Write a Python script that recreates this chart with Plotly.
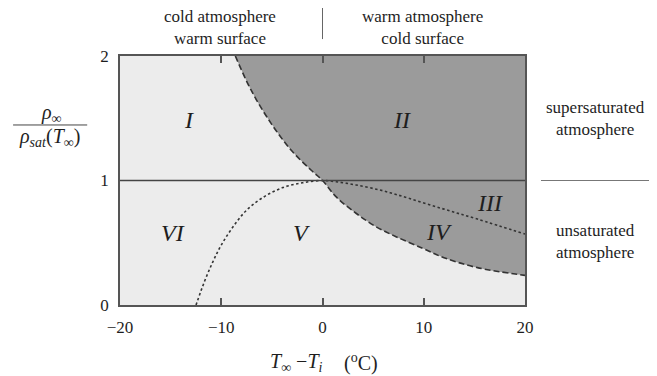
import plotly.graph_objects as go

# ---- data ----
x_ticks = [-20, -10, 0, 10, 20]
y_ticks = [0, 1, 2]

# boundary curve (dashed)
dash_x = [-8.61, -7.06, -5.08, -3.11, -1.14, 0.0, 1.33, 3.31, 5.28, 7.26, 9.89, 12.0, 15.3, 20.0]
dash_y = [2.0, 1.727, 1.459, 1.245, 1.084, 1.0, 0.870, 0.737, 0.629, 0.549, 0.455, 0.38, 0.30, 0.238]

# dotted curve
dot_x = [-12.49, -11.67, -10.84, -10.02, -8.87, -7.55, -5.90, -3.93, -1.95, 0.0, 1.33, 3.31, 5.94, 8.6, 12.0, 15.3, 20.0]
dot_y = [0.0, 0.186, 0.345, 0.478, 0.624, 0.757, 0.863, 0.943, 0.982, 1.0, 0.99, 0.964, 0.918, 0.855, 0.77, 0.69, 0.57]

# region labels
region_text = ["I", "II", "III", "IV", "V", "VI"]
region_x = [-13.2, 7.9, 16.5, 11.5, -2.1, -14.8]
region_y = [1.49, 1.49, 0.82, 0.59, 0.58, 0.58]

saturation_level = 1.0

SERIF = "Liberation Serif"
INK = "#1e1e1e"
LINE = "#333333"

fig = go.Figure()

fig.add_trace(go.Scatter(
    x=[dash_x[0], x_ticks[-1]], y=[y_ticks[-1], y_ticks[-1]],
    mode="lines", line=dict(width=0, color="rgba(0,0,0,0)"),
    hoverinfo="skip", showlegend=False))
fig.add_trace(go.Scatter(
    x=dash_x, y=dash_y, mode="lines",
    line=dict(color=LINE, width=1.6, dash="6px,3px", shape="spline"),
    fill="tonexty", fillcolor="#9b9b9b",
    hoverinfo="skip", showlegend=False))
fig.add_trace(go.Scatter(
    x=dot_x, y=dot_y, mode="lines",
    line=dict(color=LINE, width=1.6, dash="2.5px,2.5px", shape="spline"),
    hoverinfo="skip", showlegend=False))

fig.add_shape(type="line", xref="x", yref="y", x0=x_ticks[0], x1=x_ticks[-1],
              y0=saturation_level, y1=saturation_level,
              line=dict(color="#444444", width=1.5), layer="above")
fig.add_shape(type="line", xref="paper", yref="y", x0=1.0395, x1=1.311,
              y0=saturation_level, y1=saturation_level,
              line=dict(color="#777777", width=1))
fig.add_shape(type="line", xref="x", yref="paper", x0=0, x1=0,
              y0=1.068, y1=1.193, line=dict(color="#666666", width=1))

for t, xv, yv in zip(region_text, region_x, region_y):
    fig.add_annotation(x=xv, y=yv, xref="x", yref="y", text=f"<i>{t}</i>",
                       xanchor="center", yanchor="middle",
                       showarrow=False, font=dict(family=SERIF, size=24, color=INK))

txt = dict(showarrow=False, xanchor="center", yanchor="middle",
           font=dict(family=SERIF, size=17, color=INK))
fig.add_annotation(x=0.247, y=1.114, xref="paper", yref="paper",
                   text="cold atmosphere<br>warm surface", **txt)
fig.add_annotation(x=0.748, y=1.114, xref="paper", yref="paper",
                   text="warm atmosphere<br>cold surface", **txt)
fig.add_annotation(x=1.175, y=0.747, xref="paper", yref="paper",
                   text="supersaturated<br>atmosphere", **txt)
fig.add_annotation(x=1.175, y=0.257, xref="paper", yref="paper",
                   text="unsaturated<br>atmosphere", **txt)

lab = dict(showarrow=False, xanchor="center", yanchor="middle",
           font=dict(family=SERIF, size=20, color=INK))
fig.add_annotation(x=-0.169, y=0.770, xref="paper", yref="paper",
                   text="<i>ρ</i><sub>∞</sub>", **lab)
fig.add_annotation(x=-0.173, y=0.672, xref="paper", yref="paper",
                   text="<i>ρ<sub>sat</sub></i>(<i>T</i><sub>∞</sub>)", **lab)
fig.add_shape(type="line", xref="paper", yref="paper", x0=-0.264, x1=-0.081,
              y0=0.723, y1=0.723, line=dict(color="#444444", width=1))

fig.add_annotation(x=0.435, y=-0.229, xref="paper", yref="paper",
                   text="<i>T</i><sub>∞</sub> −<i>T<sub>i</sub></i>", **lab)
fig.add_annotation(x=0.595, y=-0.229, xref="paper", yref="paper",
                   text="(<sup>o</sup>C)", **lab)

fig.update_layout(
    width=649, height=368, autosize=False,
    margin=dict(l=112, r=132, t=48, b=71),
    paper_bgcolor="white", plot_bgcolor="#ececec",
    showlegend=False,
    font=dict(family=SERIF, size=17, color=INK),
    xaxis=dict(range=[x_ticks[0], x_ticks[-1]], tickvals=x_ticks,
               ticktext=[str(v).replace("-", "−") for v in x_ticks],
               ticks="inside", ticklen=7, tickwidth=1.5, tickcolor="#555555",
               ticklabelstandoff=6,
               showline=True, linecolor="#555555", linewidth=1.5, mirror="ticks",
               showgrid=False, zeroline=False, fixedrange=True),
    yaxis=dict(range=[y_ticks[0], y_ticks[-1]], tickvals=y_ticks,
               ticks="", ticklabelstandoff=6,
               showline=True, linecolor="#555555", linewidth=1.5,
               mirror=True, showgrid=False, zeroline=False, fixedrange=True),
)

fig.write_html("out.html")
